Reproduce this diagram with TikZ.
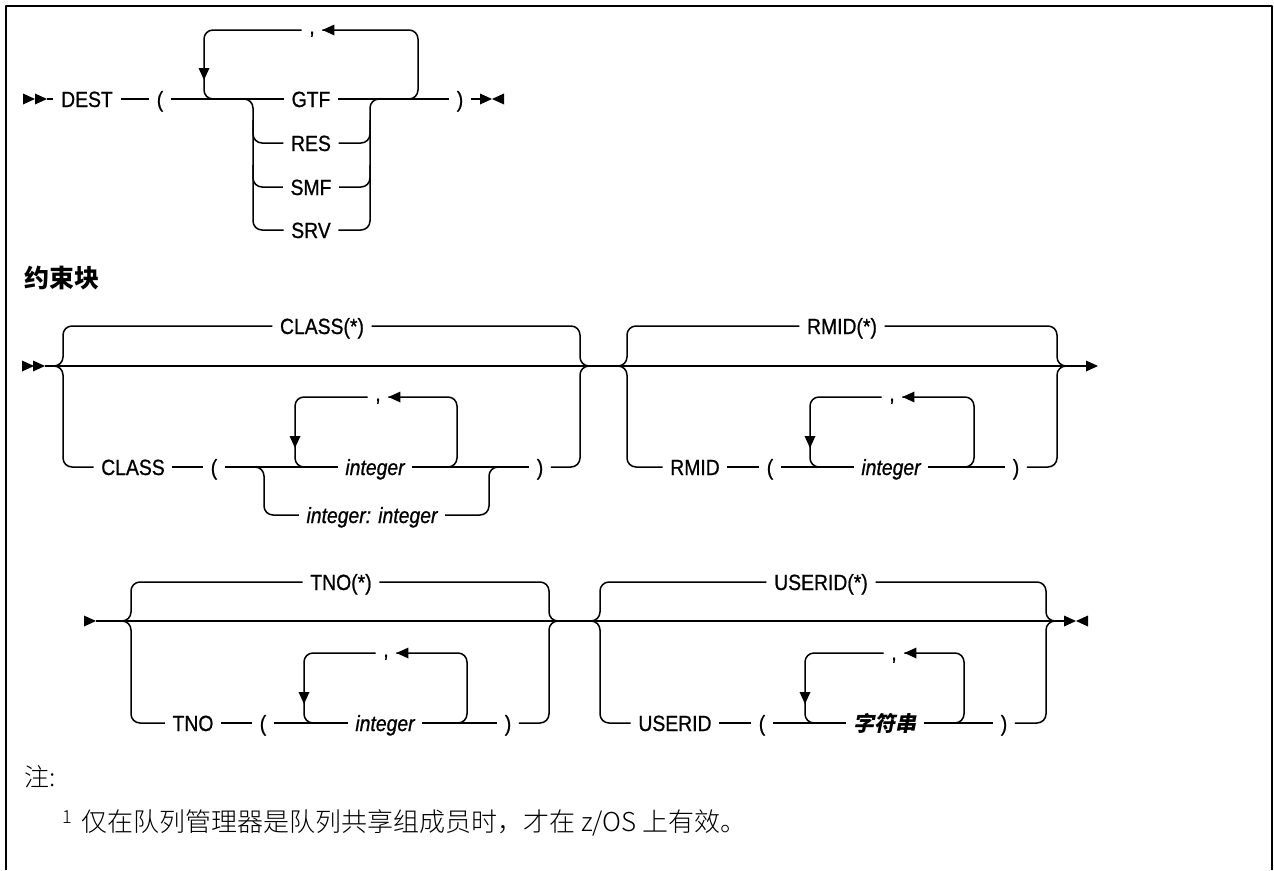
\documentclass[tikz,border=0pt]{standalone}
\usepackage{fontspec}
\setmainfont{Liberation Sans}
\newfontfamily\dfont{Liberation Sans}[FakeStretch=0.88,FakeBold=0.8]
\newfontfamily\cjk{Noto Sans CJK SC}
\newfontfamily\cjklt{Noto Sans CJK SC Light}
\newfontfamily\cjkit{Noto Sans CJK SC}[FakeSlant=0.2]
\tikzset{
 lbl/.style={font=\dfont\fontsize{22}{26}\selectfont, inner xsep=7pt, inner ysep=0pt, text height=16pt, text depth=0pt},
 ilbl/.style={lbl, font=\dfont\itshape\fontsize{22}{26}\selectfont},
 rc/.style={rounded corners=9pt},
 rtri/.pic={\fill (0,0) -- (-12,-5.5) -- (-12,5.5) -- cycle;},
 ltri/.pic={\fill (0,0) -- (12,-5.5) -- (12,5.5) -- cycle;},
 dtri/.pic={\fill (0,0) -- (-5.5,-12) -- (5.5,-12) -- cycle;},
}
\begin{document}
\begin{tikzpicture}[x=1pt,y=-1pt,line width=1.5pt,line join=round]
\useasboundingbox (0,0) rectangle (1274,870);
\draw[line width=2.4pt] (6,870) -- (6,6) -- (1272,6) -- (1272,870);

% ---------- DEST row ----------
\pic at (35,99) {rtri}; \pic at (47,99) {rtri};
\coordinate (ds) at (47,99);
\node[lbl] (dest) at (87,99) {DEST};
\node[lbl] (dlp) at (160,99) {(};
\node[lbl] (gtf) at (311,99) {GTF};
\node[lbl] (res) at (311,143) {RES};
\node[lbl] (smf) at (311,187) {SMF};
\node[lbl] (srv) at (311,230) {SRV};
\node[lbl] (drp) at (460,99) {)};
\coordinate (dlt) at (312,30);
\node[lbl] (dcom) at (312,26) {,};
\coordinate (de) at (481,99);
\draw (ds) -- (dest.west) (dest.east) -- (dlp.west) (dlp.east) -- (gtf.west) (gtf.east) -- (drp.west) (drp.east) -- (de);
\pic at (492,99) {rtri}; \pic at (492,99) {ltri};
\draw[rc] (dcom.west |- dlt) -| (204,99) -- (222,99);
\draw[rc] (400,99) -| (418,30) -- (dcom.east |- dlt);
\pic at (dcom.east |- dlt) {ltri};
\pic at (204,80) {dtri};
\draw[rc] (238,99) -| (253,230) -- (srv.west);
\draw[rc] (253,120) |- (res.west);
\draw[rc] (253,165) |- (smf.west);
\draw[rc] (srv.east) -| (370,99) -- (385,99);
\draw[rc] (res.east) -| (370,120);
\draw[rc] (smf.east) -| (370,165);

\node[anchor=west, inner sep=0pt, font=\cjk\bfseries\fontsize{25}{28}\selectfont] (title) at (24,278) {约束块};

% ---------- CLASS / RMID row ----------
\pic at (34,366) {rtri}; \pic at (45,366) {rtri};
\coordinate (cs) at (45,366); \coordinate (ce) at (1086,366);
\draw (cs) -- (ce);
\pic at (1098,366) {rtri};

\node[lbl] (clsstar) at (322,326) {CLASS(*)};
\node[lbl] (cls) at (133,467) {CLASS};
\node[lbl] (clp) at (214,467) {(};
\node[ilbl] (cint) at (375,467) {integer};
\node[ilbl] (cii) at (372,515) {integer: integer};
\node[lbl] (crp) at (540,467) {)};
\coordinate (clt) at (378,397);
\node[lbl] (ccom) at (378,393) {,};
\draw[rc] (50,366) -| (63,326) -- (clsstar.west);
\draw[rc] (50,366) -| (63,467) -- (cls.west);
\draw[rc] (clsstar.east) -| (580,366) -- (595,366);
\draw[rc] (crp.east) -| (580,366) -- (595,366);
\draw (cls.east) -- (clp.west) (clp.east) -- (cint.west) (cint.east) -- (crp.west);
\draw[rc] (250,467) -| (264,515) -- (cii.west);
\draw[rc] (cii.east) -| (489,467) -- (503,467);
\draw[rc] (ccom.west |- clt) -| (295,467) -- (312,467);
\draw[rc] (440,467) -| (457,397) -- (ccom.east |- clt);
\pic at (ccom.east |- clt) {ltri};
\pic at (295,448) {dtri};

\node[lbl] (rmstar) at (842,326) {RMID(*)};
\node[lbl] (rm) at (695,467) {RMID};
\node[lbl] (rlp) at (770,467) {(};
\node[ilbl] (rint) at (891,467) {integer};
\node[lbl] (rrp) at (1016,467) {)};
\coordinate (rlt) at (892,397);
\node[lbl] (rcom) at (892,393) {,};
\draw[rc] (614,366) -| (627,326) -- (rmstar.west);
\draw[rc] (614,366) -| (627,467) -- (rm.west);
\draw[rc] (rmstar.east) -| (1057,366) -- (1072,366);
\draw[rc] (rrp.east) -| (1057,366) -- (1072,366);
\draw (rm.east) -- (rlp.west) (rlp.east) -- (rint.west) (rint.east) -- (rrp.west);
\draw[rc] (rcom.west |- rlt) -| (810,467) -- (827,467);
\draw[rc] (957,467) -| (974,397) -- (rcom.east |- rlt);
\pic at (rcom.east |- rlt) {ltri};
\pic at (810,448) {dtri};

% ---------- TNO / USERID row ----------
\pic at (96,621) {rtri};
\coordinate (ts) at (96,621); \coordinate (te) at (1065,621);
\draw (ts) -- (te);
\pic at (1076,621) {rtri}; \pic at (1076,621) {ltri};

\node[lbl] (tnostar) at (341,582) {TNO(*)};
\node[lbl] (tno) at (193,723) {TNO};
\node[lbl] (tlp) at (263,723) {(};
\node[ilbl] (tint) at (385,723) {integer};
\node[lbl] (trp) at (508,723) {)};
\coordinate (tlt) at (386,653);
\node[lbl] (tcom) at (386,649) {,};
\draw[rc] (118,621) -| (131,582) -- (tnostar.west);
\draw[rc] (118,621) -| (131,723) -- (tno.west);
\draw[rc] (tnostar.east) -| (549,621) -- (564,621);
\draw[rc] (trp.east) -| (549,621) -- (564,621);
\draw (tno.east) -- (tlp.west) (tlp.east) -- (tint.west) (tint.east) -- (trp.west);
\draw[rc] (tcom.west |- tlt) -| (304,723) -- (321,723);
\draw[rc] (450,723) -| (467,653) -- (tcom.east |- tlt);
\pic at (tcom.east |- tlt) {ltri};
\pic at (304,704) {dtri};

\node[lbl] (usstar) at (821,582) {USERID(*)};
\node[lbl] (us) at (675,723) {USERID};
\node[lbl] (ulp) at (762,723) {(};
\node[lbl, font=\cjkit\bfseries\fontsize{21}{24}\selectfont] (ustr) at (885,723) {字符串};
\node[lbl] (urp) at (1004,723) {)};
\coordinate (ult) at (894,653);
\node[lbl] (ucom) at (894,652) {,};
\draw[rc] (587,621) -| (600,582) -- (usstar.west);
\draw[rc] (587,621) -| (600,723) -- (us.west);
\draw[rc] (usstar.east) -| (1046,621) -- (1060,621);
\draw[rc] (urp.east) -| (1046,621) -- (1060,621);
\draw (us.east) -- (ulp.west) (ulp.east) -- (ustr.west) (ustr.east) -- (urp.west);
\draw[rc] (ucom.west |- ult) -| (805,723) -- (822,723);
\draw[rc] (947,723) -| (964,653) -- (ucom.east |- ult);
\pic at (ucom.east |- ult) {ltri};
\pic at (805,704) {dtri};

% ---------- notes ----------
\node[anchor=west, inner sep=0pt, font=\cjklt\fontsize{25}{28}\selectfont] (note) at (24,777) {注:};
\node[anchor=west, inner sep=0pt, font=\cjklt\fontsize{26}{28}\selectfont] (fn) at (62,823) {\raisebox{8pt}{\fontsize{18}{18}\selectfont 1}\hspace{9pt}仅在队列管理器是队列共享组成员时，才在 z/OS 上有效。};
\end{tikzpicture}
\end{document}
